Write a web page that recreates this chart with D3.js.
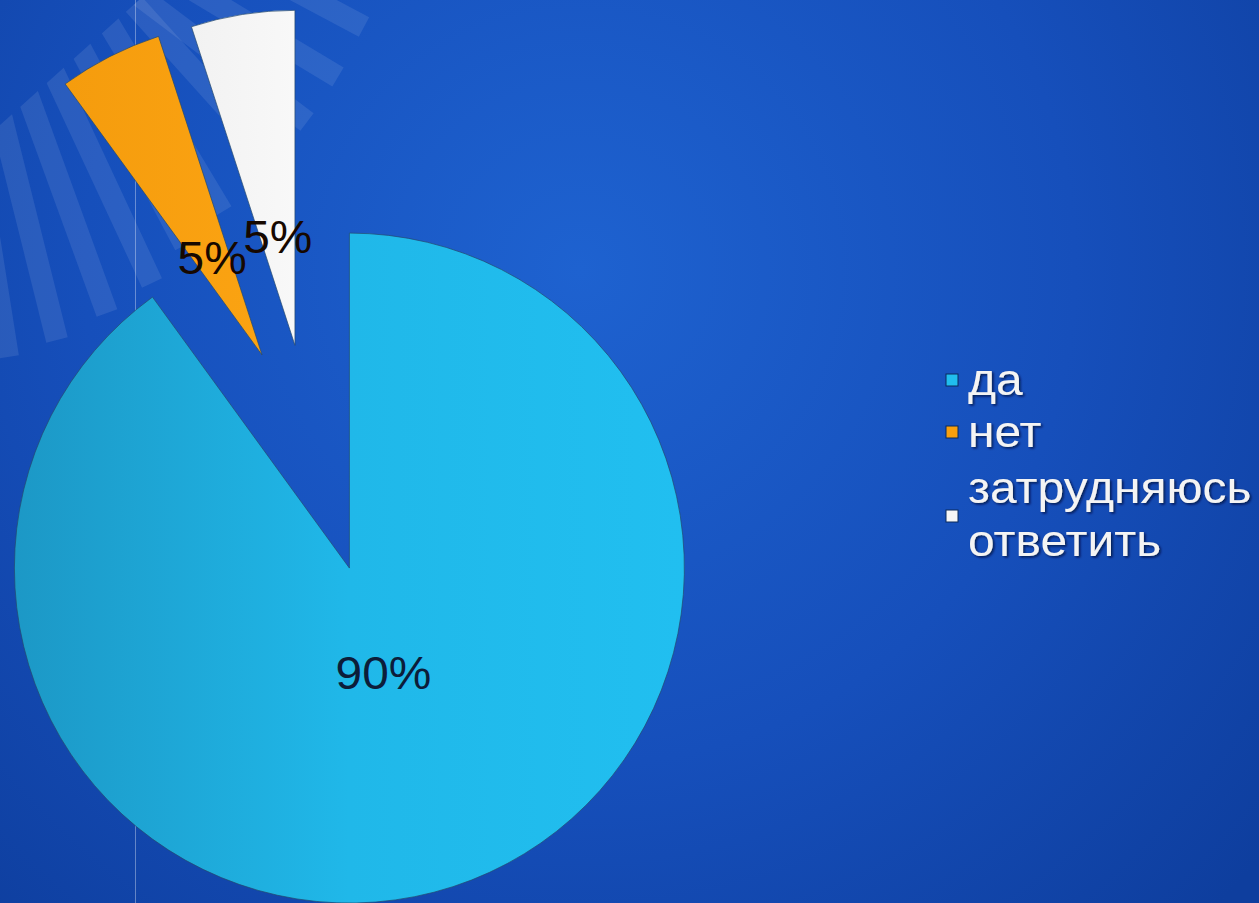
<!DOCTYPE html>
<html>
<head>
<meta charset="utf-8">
<script src="https://cdn.jsdelivr.net/npm/d3@7"></script>
<style>
  html, body { margin: 0; padding: 0; background: #1249a8; overflow: hidden; }
  svg { display: block; }
</style>
</head>
<body>
<div id="chart"></div>
<script>
// chart data
const categories = ['да', 'нет', 'затрудняюсь ответить']
const values = [90, 5, 5]
const pctLabels = ['90%', '5%', '5%']
const legendLines = [['да'], ['нет'], ['затрудняюсь', 'ответить']]

const colors = ['#20bdee', '#f8a00e', '#f6f6f6']

const width = 1259
const height = 903

const svg = d3.select('#chart')
  .append('svg')
  .attr('width', width)
  .attr('height', height)

const defs = svg.append('defs')

// background gradient
const bg = defs.append('radialGradient')
  .attr('id', 'bg')
  .attr('gradientUnits', 'userSpaceOnUse')
  .attr('cx', 580).attr('cy', 270).attr('r', 900)
bg.append('stop').attr('offset', '0%').attr('stop-color', '#1e62d0')
bg.append('stop').attr('offset', '55%').attr('stop-color', '#164fbb')
bg.append('stop').attr('offset', '100%').attr('stop-color', '#0e3e9e')

// slice gradients
const gBlue = defs.append('linearGradient').attr('id', 'g0')
  .attr('x1', '0%').attr('x2', '100%').attr('y1', '0%').attr('y2', '0%')
gBlue.append('stop').attr('offset', '0%').attr('stop-color', '#1c98c6')
gBlue.append('stop').attr('offset', '50%').attr('stop-color', '#20b8e9')
gBlue.append('stop').attr('offset', '100%').attr('stop-color', '#21bff0')

const gOrange = defs.append('linearGradient').attr('id', 'g1')
  .attr('x1', '0%').attr('x2', '100%')
gOrange.append('stop').attr('offset', '0%').attr('stop-color', '#f59c0d')
gOrange.append('stop').attr('offset', '100%').attr('stop-color', '#fba312')

const gWhite = defs.append('linearGradient').attr('id', 'g2')
  .attr('x1', '0%').attr('x2', '100%')
gWhite.append('stop').attr('offset', '0%').attr('stop-color', '#f2f2f2')
gWhite.append('stop').attr('offset', '100%').attr('stop-color', '#f8f8f8')

const shadow = defs.append('filter').attr('id', 'shadow')
  .attr('x', '-10%').attr('y', '-10%').attr('width', '130%').attr('height', '130%')
shadow.append('feDropShadow')
  .attr('dx', 1.5).attr('dy', 1.5).attr('stdDeviation', 1.2)
  .attr('flood-color', '#00103a').attr('flood-opacity', 0.8)

svg.append('rect')
  .attr('width', width)
  .attr('height', height)
  .attr('fill', 'url(#bg)')

// decorative stripes in the top left corner (background, not data)
defs.append('clipPath').attr('id', 'strip')
  .append('polygon')
  .attr('points', '0,125 139,0 700,0 700,700 0,700')

// [end x, end y, angle]
const stripes = [
  [8, 357, 81], [57, 340, 76], [107, 313, 70], [152, 283, 65],
  [185, 245, 62], [222, 212, 59], [265, 150, 48],
  [307, 122, 37], [338, 77, 31], [364, 27, 28]
]
svg.append('g')
  .attr('clip-path', 'url(#strip)')
  .selectAll('rect')
  .data(stripes)
  .enter().append('rect')
  .attr('transform', d => 'translate(' + d[0] + ',' + d[1] + ') rotate(' + d[2] + ')')
  .attr('x', -600)
  .attr('y', -11)
  .attr('width', 600)
  .attr('height', 22)
  .attr('fill', '#ffffff')
  .attr('fill-opacity', 0.09)

svg.append('line')
  .attr('x1', 135.5).attr('x2', 135.5)
  .attr('y1', 0).attr('y2', height)
  .attr('stroke', '#ffffff')
  .attr('stroke-opacity', 0.35)
  .attr('stroke-width', 1)

// pie
const radius = 335
const explode = [121, 110, 109]
const pie = d3.pie().sort(null).value(d => d)
const arcs = pie(values)

const arc = d3.arc().innerRadius(0).outerRadius(radius)
const labelArc = d3.arc().innerRadius(110).outerRadius(110)

const g = svg.append('g')
  .attr('transform', 'translate(312,453)')

function shift (d, i) {
  const a = (d.startAngle + d.endAngle) / 2
  return [Math.sin(a) * explode[i], -Math.cos(a) * explode[i]]
}

const slices = g.selectAll('g.slice')
  .data(arcs)
  .enter().append('g')
  .attr('class', 'slice')
  .attr('transform', (d, i) => 'translate(' + shift(d, i) + ')')

slices.append('path')
  .attr('d', arc)
  .attr('fill', (d, i) => 'url(#g' + i + ')')
  .attr('stroke', '#23486e')
  .attr('stroke-opacity', 0.7)
  .attr('stroke-width', 1)

slices.append('text')
  .attr('transform', d => 'translate(' + labelArc.centroid(d) + ') scale(1.04,1)')
  .attr('text-anchor', 'middle')
  .attr('dy', '0.36em')
  .attr('font-family', 'Liberation Sans, Arial, sans-serif')
  .attr('font-size', 46)
  .attr('fill', (d, i) => i === 0 ? '#0c1d3a' : '#160800')
  .text((d, i) => pctLabels[i])

// legend
const legendRows = [395, 447, 503]
const legend = svg.append('g')
  .attr('class', 'legend')

const items = legend.selectAll('g')
  .data(categories)
  .enter().append('g')

items.append('rect')
  .attr('x', 946)
  .attr('y', (d, i) => legendLines[i].length > 1 ? legendRows[i] + 7 : legendRows[i] - 21)
  .attr('width', 12)
  .attr('height', 12)
  .attr('fill', (d, i) => colors[i])
  .attr('stroke', '#0b2a5c')
  .attr('stroke-width', 1)

items.append('text')
  .attr('transform', (d, i) => 'translate(968,' + legendRows[i] + ') scale(1.09,1)')
  .attr('font-family', 'Liberation Sans, Arial, sans-serif')
  .attr('font-size', 44)
  .attr('fill', '#f4f4f4')
  .attr('filter', 'url(#shadow)')
  .selectAll('tspan')
  .data((d, i) => legendLines[i])
  .enter().append('tspan')
  .attr('x', 0)
  .attr('dy', (d, j) => j === 0 ? 0 : 53)
  .text(d => d)
</script>
</body>
</html>
